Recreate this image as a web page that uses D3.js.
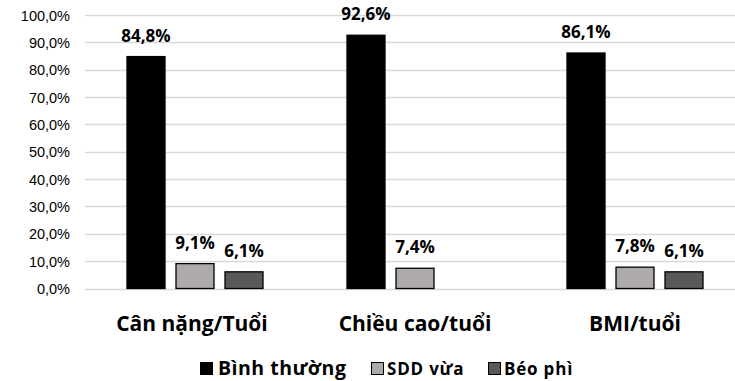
<!DOCTYPE html>
<html><head><meta charset="utf-8">
<script src="https://cdn.jsdelivr.net/npm/d3@7"></script>
<style>body{margin:0;background:#fff}svg{display:block}</style>
</head><body>
<script>
const categories = ["Cân nặng/Tuổi", "Chiều cao/tuổi", "BMI/tuổi"];
const seriesNames = ["Bình thường", "SDD vừa", "Béo phì"];
const binhThuong = [84.8, 92.6, 86.1];
const sddVua = [9.1, 7.4, 7.8];
const beoPhi = [6.1, null, 6.1];
const yTicks = [0, 10, 20, 30, 40, 50, 60, 70, 80, 90, 100];
const colors = ["#000000", "#aeaaaa", "#595959"];

const W = 735, H = 381;
const svg = d3.select("body").append("svg").attr("width", W).attr("height", H);
const fmt = v => v.toFixed(1).replace(".", ",") + "%";
const FONT = "'Open Sans', Carlito, sans-serif";

const y = d3.scaleLinear().domain([0, 100]).range([288.5, 15]);
const x = d3.scaleBand().domain(categories).range([85, 745]).paddingInner(0).paddingOuter(0);
const groupW = 136;
const xs = d3.scaleBand().domain(seriesNames).range([0, groupW]).paddingInner(11/49).paddingOuter(0);

// grid
svg.append("g").selectAll("line").data(yTicks).join("line")
  .attr("x1", 85).attr("x2", 735)
  .attr("y1", d => Math.round(y(d)) + 0.5).attr("y2", d => Math.round(y(d)) + 0.5)
  .attr("stroke", "#d9d9d9").attr("stroke-width", 1.5);

// y axis labels
const yAxis = d3.axisLeft(y).tickValues(yTicks).tickFormat(fmt).tickSize(0).tickPadding(0);
const ga = svg.append("g").attr("transform", "translate(70,0)").call(yAxis);
ga.select(".domain").remove();
ga.selectAll("text").attr("font-family", "Liberation Sans, Arial, sans-serif")
  .attr("font-size", 14.5).attr("fill", "#000").attr("dy", "0.35em");

const data = [binhThuong, sddVua, beoPhi];
const rows = [];
categories.forEach((c, i) => {
  seriesNames.forEach((s, j) => {
    const v = data[j][i];
    if (v != null) rows.push({c, s, v, j});
  });
});
const gx = c => x(c) + x.bandwidth() / 2 - groupW / 2;

svg.append("g").selectAll("rect").data(rows).join("rect")
  .attr("x", d => gx(d.c) + xs(d.s))
  .attr("y", d => y(d.v))
  .attr("width", xs.bandwidth())
  .attr("height", d => y(0) - y(d.v))
  .attr("fill", d => colors[d.j])
  .attr("stroke", "#000").attr("stroke-width", 1.3);

svg.append("g").selectAll("text").data(rows).join("text")
  .attr("x", d => gx(d.c) + xs(d.s) + xs.bandwidth() / 2)
  .attr("y", d => y(d.v) - 15)
  .attr("text-anchor", "middle")
  .attr("font-family", FONT).attr("font-weight", "bold")
  .attr("font-size", 17).attr("fill", "#000")
  .text(d => fmt(d.v));

// category labels
svg.append("g").selectAll("text").data(categories).join("text")
  .attr("x", (c, i) => x(c) + x.bandwidth() / 2 - (i === 0 ? 3 : 0))
  .attr("y", 331)
  .attr("text-anchor", "middle")
  .attr("font-family", FONT).attr("font-weight", "bold")
  .attr("font-size", 21).attr("fill", "#000")
  .text(c => c);

// legend
const legend = [
  {name: seriesNames[0], sx: 200.5, tx: 218, fs: 19.5, ls: 0.5},
  {name: seriesNames[1], sx: 371.5, tx: 387, fs: 17, ls: 0.8},
  {name: seriesNames[2], sx: 488.5, tx: 504, fs: 17, ls: 0.8}
];
const lg = svg.append("g");
legend.forEach((d, i) => {
  lg.append("rect").attr("x", d.sx).attr("y", 362.5).attr("width", 12).attr("height", 12)
    .attr("fill", colors[i]).attr("stroke", "#000").attr("stroke-width", 1);
  lg.append("text").attr("x", d.tx).attr("y", 375)
    .attr("font-family", FONT).attr("font-weight", "bold")
    .attr("letter-spacing", d.ls)
    .attr("font-size", d.fs).attr("fill", "#000").text(d.name);
});
</script>
</body></html>
